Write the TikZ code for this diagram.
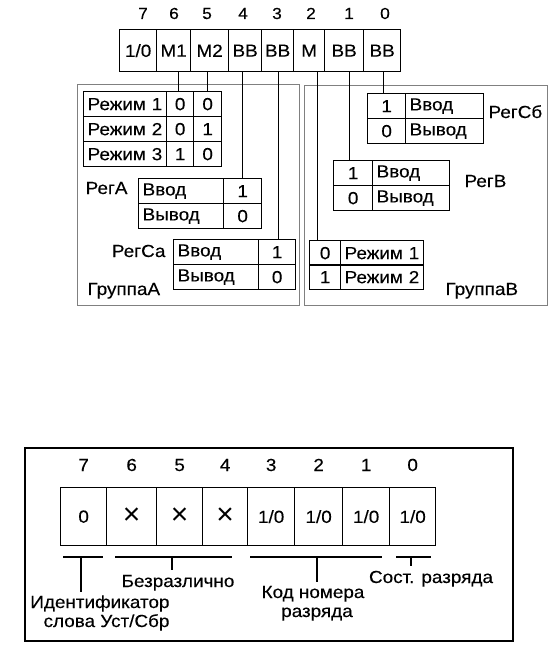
\documentclass[tikz,border=0pt]{standalone}
\usepackage{fontspec}
\setmainfont{Liberation Sans}[FakeStretch=1.08, FakeBold=0.25]
\newfontfamily\plainsans{Liberation Sans}
\newcommand\txtfont{\fontsize{17.5}{20}\selectfont}
\newcommand\bitfont{\fontsize{16}{18}\selectfont}
\newcommand\crossfont{\plainsans\fontsize{30}{30}\selectfont}
\begin{document}
\begin{tikzpicture}[x=1pt,y=-1pt,
  every node/.style={font=\txtfont},
  reg/.style={draw, line width=1.3pt, inner sep=0pt, anchor=north west, minimum height=42pt, minimum width=#1},
  bit/.style={font=\bitfont, anchor=base},
  grp/.style={draw=black!50, line width=0.9pt, inner sep=0pt, anchor=north west},
  cc/.style={draw, line width=1.3pt, inner sep=0pt, anchor=north west, minimum height=25pt, minimum width=#1},
  cl/.style={draw, line width=1.3pt, inner xsep=4pt, inner ysep=0pt, anchor=north west, minimum height=25pt, text width=#1, align=left},
  conn/.style={draw, line width=1.3pt},
  bc/.style={draw, line width=1.3pt, inner sep=0pt, anchor=north west, minimum height=58pt, minimum width=#1},
  lab/.style={anchor=base}
]
\useasboundingbox (0,0) rectangle (559,669);

% ---------- top register ----------
\node[reg=37pt] (r7) at (119,29) {1/0};
\node[reg=34pt] (r6) at (156,29) {М1};
\node[reg=38pt] (r5) at (190,29) {М2};
\node[reg=33pt] (r4) at (228,29) {ВВ};
\node[reg=32pt] (r3) at (261,29) {ВВ};
\node[reg=31pt] (r2) at (293,29) {М};
\node[reg=39pt] (r1) at (324,29) {ВВ};
\node[reg=37pt] (r0) at (363,29) {ВВ};

\node[bit] (t7) at (143,19) {7};
\node[bit] (t6) at (174,19) {6};
\node[bit] (t5) at (207,19) {5};
\node[bit] (t4) at (243,19) {4};
\node[bit] (t3) at (277,19) {3};
\node[bit] (t2) at (311,19) {2};
\node[bit] (t1) at (349,19) {1};
\node[bit] (t0) at (385,19) {0};

% ---------- groups ----------
\node[grp, minimum width=222pt, minimum height=221pt] (gA) at (77,84) {};
\node[grp, minimum width=243pt, minimum height=220pt] (gB) at (304,85) {};

% Режим table (group A)
\node[cl=75pt] (ma11) at (83,91) {Режим 1};
\node[cc=27pt] (ma12) at (166,91) {0};
\node[cc=28pt] (ma13) at (193,91) {0};
\node[cl=75pt] (ma21) at (83,116) {Режим 2};
\node[cc=27pt] (ma22) at (166,116) {0};
\node[cc=28pt] (ma23) at (193,116) {1};
\node[cl=75pt] (ma31) at (83,141) {Режим 3};
\node[cc=27pt] (ma32) at (166,141) {1};
\node[cc=28pt] (ma33) at (193,141) {0};

% РегА
\node[cl=77pt] (ra1) at (138,178) {Ввод};
\node[cc=38pt] (ra2) at (223,178) {1};
\node[cl=77pt] (ra3) at (138,203) {Вывод};
\node[cc=38pt] (ra4) at (223,203) {0};
\node[lab, anchor=base east] (lra) at (131,194) {РегА};

% РегСа
\node[cl=77pt] (rca1) at (173,239) {Ввод};
\node[cc=37pt] (rca2) at (258,239) {1};
\node[cl=77pt] (rca3) at (173,264) {Вывод};
\node[cc=37pt] (rca4) at (258,264) {0};
\node[lab, anchor=base east] (lrca) at (169,257) {РегСа};

\node[lab, anchor=base west] (lga) at (84,295) {ГруппаА};

% РегСб
\node[cc=38pt] (rcb1) at (367,93) {1};
\node[cl=70pt] (rcb2) at (405,93) {Ввод};
\node[cc=38pt] (rcb3) at (367,118) {0};
\node[cl=70pt] (rcb4) at (405,118) {Вывод};
\node[lab, anchor=base west] (lrcb) at (485,118) {РегСб};

% РегВ
\node[cc=39pt] (rb1) at (333,160) {1};
\node[cl=69pt] (rb2) at (372,160) {Ввод};
\node[cc=39pt] (rb3) at (333,185) {0};
\node[cl=69pt] (rb4) at (372,185) {Вывод};
\node[lab, anchor=base west] (lrb) at (461,187) {РегВ};

% Режим table (group B)
\node[cc=31pt] (mb11) at (309,240) {0};
\node[cl=75pt] (mb12) at (340,240) {Режим 1};
\node[cc=31pt] (mb21) at (309,264) {1};
\node[cl=75pt] (mb22) at (340,264) {Режим 2};
\node[lab, anchor=base west] (lgb) at (442,295) {ГруппаВ};

% connectors
\coordinate (c6) at ([xshift=-1.5pt]ma12.north);
\coordinate (c5) at (ma13.north);
\coordinate (c4) at (ra2.north);
\coordinate (c3) at ([xshift=1pt]rca2.north);
\coordinate (c2) at ([xshift=-7.5pt]mb11.north);
\coordinate (c1) at ([xshift=-3.5pt]rb1.north);
\coordinate (c0) at ([xshift=-3pt]rcb1.north);
\draw[conn] (c6) -- (c6 |- r6.south);
\draw[conn] (c5) -- (c5 |- r5.south);
\draw[conn] (c4) -- (c4 |- r4.south);
\draw[conn] (c3) -- (c3 |- r3.south);
\draw[conn] (c2) -- (c2 |- r2.south);
\draw[conn] (c1) -- (c1 |- r1.south);
\draw[conn] (c0) -- (c0 |- r0.south);

% ---------- bottom part ----------
\node[draw, line width=1.6pt, inner sep=0pt, anchor=north west, minimum width=488pt, minimum height=193pt] (outer) at (24,447) {};

\node[bc=46pt] (b7) at (60,487) {0};
\node[bc=50pt] (b6) at (106,487) {\crossfont ×};
\node[bc=46pt] (b5) at (156,487) {\crossfont ×};
\node[bc=45pt] (b4) at (202,487) {\crossfont ×};
\node[bc=47pt] (b3) at (247,487) {1/0};
\node[bc=48pt] (b2) at (294,487) {1/0};
\node[bc=47pt] (b1) at (342,487) {1/0};
\node[bc=46pt] (b0) at (389,487) {1/0};

\foreach \n in {7,6,5,4,3,2,1,0}{
  \path (b\n.north) ++(0,-16) node[lab] (bn\n) {\n};
}

% brackets
\draw[conn] (63,557) -- (103,557);
\draw[conn] (81,557) -- (81,592);
\draw[conn] (115,557) -- (232,557);
\draw[conn] (172,557) -- (172,570);
\draw[conn] (250,557) -- (382,557);
\draw[conn] (317,557) -- (317,582);
\draw[conn] (396,557) -- (431,557);
\draw[conn] (411,557) -- (411,566);

\node[lab] (lbez) at (178,587) {Безразлично};
\node[lab, anchor=base east] (lid1) at (173,608) {Идентификатор};
\node[lab, anchor=base east] (lid2) at (173,627) {слова Уст/Сбр};
\node[lab] (lkod1) at (313,598) {Код номера};
\node[lab] (lkod2) at (317,617) {разряда};
\node[lab] (lsost) at (431,583) {Сост. разряда};
\end{tikzpicture}
\end{document}
